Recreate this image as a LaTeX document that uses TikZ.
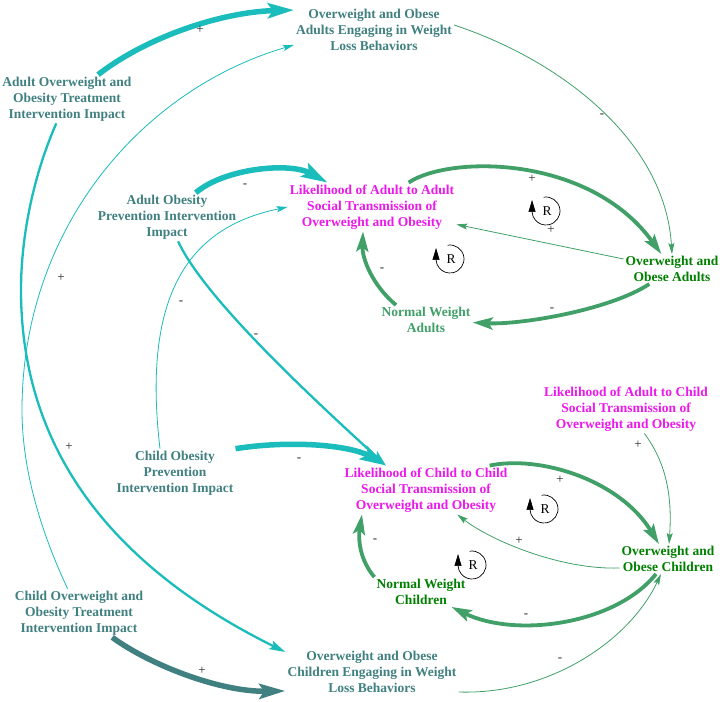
\documentclass[tikz,border=0pt]{standalone}
\usepackage{fontspec}
\setmainfont{Liberation Serif}
\usetikzlibrary{arrows.meta}

\definecolor{tealln}{RGB}{26,188,188}
\definecolor{tealdk}{RGB}{64,128,128}
\definecolor{grnln}{RGB}{64,160,104}
\definecolor{grndk}{RGB}{0,128,0}
\definecolor{magtx}{RGB}{235,25,235}
\definecolor{signgray}{RGB}{40,40,40}

\tikzset{
  varnode/.style={align=center, inner sep=2pt, font=\bfseries\fontsize{13.5}{16}\selectfont},
  thinlnk/.style={line width=0.8pt, -{Stealth[length=11pt,width=6pt,inset=2pt]}},
  midlnk/.style={line width=2.3pt, -{Stealth[length=16pt,width=9pt,inset=3pt]}},
  thklnk/.style={line width=3.8pt, -{Stealth[length=20pt,width=12pt,inset=4pt]}},
  fatlnk/.style={line width=5.5pt, -{Stealth[length=26pt,width=15pt,inset=5pt]}},
  sgn/.style={font=\fontsize{13}{13}\selectfont, text=signgray, inner sep=0pt},
  loopR/.pic={
    \draw[line width=0.7pt, -{Triangle[length=12pt,width=7pt]}]
      (100:14pt) arc[start angle=100, end angle=-176, radius=14pt] -- ++(0pt,12pt);
    \node[font=\fontsize{13.5}{13.5}\selectfont, inner sep=0pt] (-r) at (1pt,0pt) {R};
  }
}

\begin{document}
\begin{tikzpicture}[x=1pt, y=-1pt]
  \path[use as bounding box, fill=white] (0,0) rectangle (722,701);

  %% Variables
  \node[varnode,text=tealdk] (aeng)   at (374,30)  {Overweight and Obese\\Adults Engaging in Weight\\Loss Behaviors};
  \node[varnode,text=tealdk] (atreat) at (67,99)   {Adult Overweight and\\Obesity Treatment\\Intervention Impact};
  \node[varnode,text=tealdk] (aprev)  at (167,217) {Adult Obesity\\Prevention Intervention\\Impact};
  \node[varnode,text=magtx]  (la2a)   at (372,207) {Likelihood of Adult to Adult\\Social Transmission of\\Overweight and Obesity};
  \node[varnode,text=grndk]  (oa)     at (672,269) {Overweight and\\Obese Adults};
  \node[varnode,text=grnln]  (nwa)    at (426,320) {Normal Weight\\Adults};
  \node[varnode,text=magtx]  (la2c)   at (626,409) {Likelihood of Adult to Child\\Social Transmission of\\Overweight and Obesity};
  \node[varnode,text=tealdk] (cprev)  at (175,473) {Child Obesity\\Prevention\\Intervention Impact};
  \node[varnode,text=magtx]  (lc2c)   at (426,490) {Likelihood of Child to Child\\Social Transmission of\\Overweight and Obesity};
  \node[varnode,text=grndk]  (oc)     at (668,559) {Overweight and\\Obese Children};
  \node[varnode,text=grndk]  (nwc)    at (421,592) {Normal Weight\\Children};
  \node[varnode,text=tealdk] (ctreat) at (79,613)  {Child Overweight and\\Obesity Treatment\\Intervention Impact};
  \node[varnode,text=tealdk] (ceng)   at (372,672) {Overweight and Obese\\Children Engaging in Weight\\Loss Behaviors};

  %% Intervention links
  \draw[fatlnk,tealln] (atreat) .. controls (145,38) and (220,12) .. ([yshift=-3pt]aeng.north west);
  \draw[midlnk,tealln] (atreat) .. controls (34,174) and (21,235) .. (21,290)
                                .. controls (21,480) and (150,585) .. ([yshift=-3pt]ceng.north west);
  \draw[thinlnk,tealln] (ctreat) .. controls (41,532) and (22,470) .. (22,410)
                                 .. controls (22,230) and (140,90) .. ([yshift=8pt]aeng.south west);
  \draw[fatlnk,tealln] (aprev) .. controls (225,168) and (290,162) .. (la2a);
  \draw[midlnk,tealln] (aprev) .. controls (205,300) and (320,405) .. ([xshift=-40pt]lc2c.north);
  \draw[fatlnk,tealln] (cprev.north east) .. controls (290,440) and (350,445) .. ([xshift=-40pt]lc2c.north);
  \draw[thinlnk,tealln] ([xshift=-15pt]cprev.north) .. controls (140,280) and (200,225) .. (la2a.west);
  \draw[fatlnk,tealdk] (ctreat) .. controls (150,665) and (220,692) .. ([yshift=4pt]ceng.south west);

  %% Adult loop
  \draw[thinlnk,grnln] ([yshift=5pt]aeng.east) .. controls (560,60) and (665,140) .. (oa.north);
  \draw[thklnk,grnln] (la2a) .. controls (450,155) and (590,155) .. (oa);
  \draw[thinlnk,grnln] (oa) -- (la2a);
  \draw[thklnk,grnln] ([xshift=-30pt]nwa.north) .. controls (372,285) and (362,258) .. ([xshift=-9pt]la2a.south);
  \draw[thklnk,grnln] (oa) .. controls (610,310) and (520,325) .. (nwa);

  %% Child loop
  \draw[thklnk,grnln] ([xshift=-20pt]lc2c.north east) .. controls (540,455) and (620,480) .. (oc);
  \draw[thinlnk,grnln] ([yshift=-9pt]oc.west) .. controls (560,570) and (490,540) .. (lc2c);
  \draw[thklnk,grnln] (nwc.north west) .. controls (360,560) and (358,540) .. ([xshift=-64pt]lc2c.south);
  \draw[thklnk,grnln] (oc) .. controls (615,625) and (515,638) .. (nwc);
  \draw[thinlnk,grnln] ([yshift=-20pt]ceng.east) .. controls (550,695) and (630,640) .. (oc);
  \draw[thinlnk,grnln] (la2c) .. controls (668,465) and (672,500) .. (oc);

  %% Polarity signs
  \foreach \x/\y/\s [count=\i] in {200/30/+, 61/278/+, 69/447/+, 245/186/-, 181/303/-,
      256/336/-, 299/460/-, 202/671/+, 602/116/-, 532/179/+, 551/230/+, 382/270/-,
      552/310/-, 560/480/+, 519/541/+, 375/541/-, 526/616/-, 560/660/-, 638/445/+}
    \node[sgn] (sg\i) at (\x,\y) {\s};

  %% Reinforcing loop markers
  \foreach \x/\y [count=\i] in {546/211, 450/259, 544/509, 472/565}
    \pic (lp\i) at (\x,\y) {loopR};
\end{tikzpicture}
\end{document}
